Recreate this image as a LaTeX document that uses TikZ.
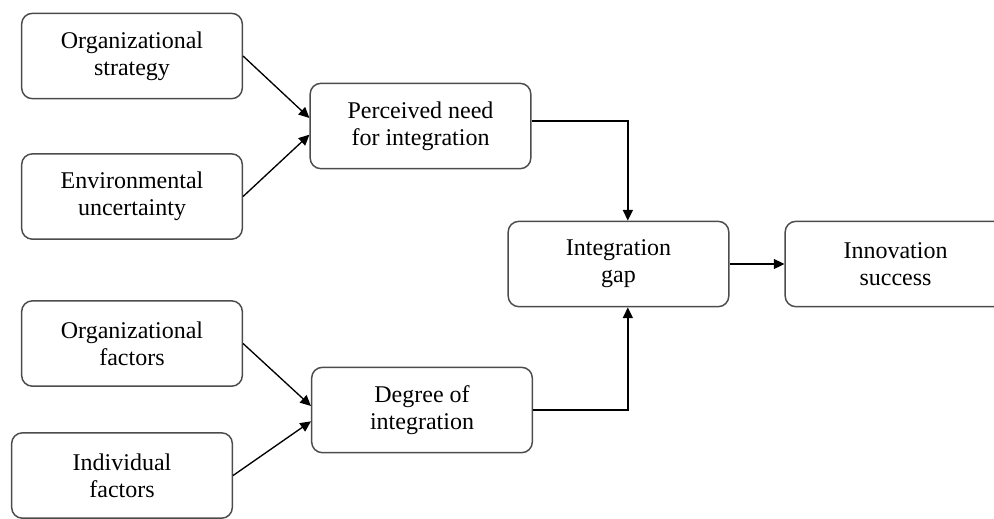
\documentclass[tikz,border=0pt]{standalone}
\usepackage{fontspec}
\setmainfont{Liberation Serif}
\usetikzlibrary{arrows.meta,calc}
\begin{document}
\begin{tikzpicture}[x=0.75pt,y=-0.75pt,
  box/.style={draw=black!70, line width=1.1pt, rounded corners=8pt,
    minimum width=165.5pt, minimum height=64pt, inner sep=0pt,
    align=center, font=\fontsize{18}{20.25}\selectfont},
  arr/.style={line width=1pt, -{Triangle[length=8pt,width=7.5pt]}}]
\useasboundingbox (0,0) rectangle (994,518);
\clip (0,0) rectangle (994,518);
\node[box] (os) at (132,56) {Organizational\\strategy};
\node[box] (eu) at (132,196.5) {Environmental\\uncertainty};
\node[box] (pn) at (420.5,126) {Perceived need\\for integration};
\node[box] (ig) at (618.5,264) {Integration\\gap};
\node[box] (is) at (895.5,264) {Innovation\\success};
\node[box] (of) at (132,343.5) {Organizational\\factors};
\node[box] (if) at (122,475.5) {Individual\\factors};
\node[box] (di) at (422,410) {Degree of\\integration};
\draw[arr] (os.east) -- ([yshift=6pt]pn.west);
\draw[arr] (eu.east) -- ([yshift=-6.5pt]pn.west);
\draw[arr] (of.east) -- ([yshift=3pt]di.west);
\draw[arr] (if.east) -- ([yshift=-8.5pt]di.west);
\draw[arr] ([yshift=3.75pt]pn.east) -| ([xshift=7pt]ig.north);
\draw[arr] (di.east) -| ([xshift=7pt]ig.south);
\draw[arr] (ig.east) -- (is.west);
\end{tikzpicture}
\end{document}
